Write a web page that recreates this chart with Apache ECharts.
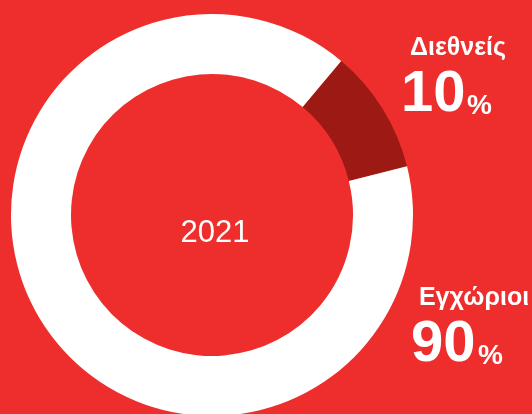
<!DOCTYPE html>
<html lang="el" style="height: 100%">
<head>
  <meta charset="utf-8">
  <title>Διεθνείς / Εγχώριοι 2021</title>
</head>
<body style="height: 100%; margin: 0; background: #ee2e2c;">
  <div id="container" style="width: 532px; height: 414px;"></div>

  <script src="https://cdn.jsdelivr.net/npm/echarts@6/dist/echarts.min.js"></script>
  <script type="text/javascript">
    const year = '2021';
    const categories = ['Διεθνείς', 'Εγχώριοι'];
    const values = [10, 90];
    const colors = ['#9d1913', '#ffffff'];

    const font = '"Liberation Sans", Arial, sans-serif';
    const chart = echarts.init(document.getElementById('container'));

    // label spots for each category (name, big number, percent sign)
    const spots = [
      { nameX: 458, nameY: 48, numX: 401, numY: 95, pctX: 467, pctY: 106 },
      { nameX: 474, nameY: 298, numX: 411, numY: 345, pctX: 478, pctY: 356 }
    ];

    const graphics = [];
    categories.forEach((c, i) => {
      const s = spots[i];
      graphics.push({
        type: 'text', x: s.nameX, y: s.nameY, silent: true,
        style: { text: c, fill: '#fff', font: 'bold 25px ' + font, align: 'center', verticalAlign: 'middle' }
      });
      graphics.push({
        type: 'text', x: s.numX, y: s.numY, silent: true,
        style: { text: String(values[i]), fill: '#fff', font: 'bold 58px ' + font, align: 'left', verticalAlign: 'middle' }
      });
      graphics.push({
        type: 'text', x: s.pctX, y: s.pctY, silent: true,
        style: { text: '%', fill: '#fff', font: 'bold 28px ' + font, align: 'left', verticalAlign: 'middle' }
      });
    });
    graphics.push({
      type: 'text', x: 215, y: 233, silent: true,
      style: { text: year, fill: '#fff', font: '31px ' + font, align: 'center', verticalAlign: 'middle' }
    });

    chart.setOption({
      backgroundColor: '#ee2e2c',
      animation: false,
      graphic: graphics,
      series: [{
        type: 'pie',
        center: [212, 215],
        radius: [141, 201],
        startAngle: 50,
        clockwise: true,
        silent: true,
        label: { show: false },
        labelLine: { show: false },
        itemStyle: { borderWidth: 0 },
        emphasis: { disabled: true },
        data: categories.map((c, i) => ({ name: c, value: values[i], itemStyle: { color: colors[i] } }))
      }]
    });
  </script>
</body>
</html>
